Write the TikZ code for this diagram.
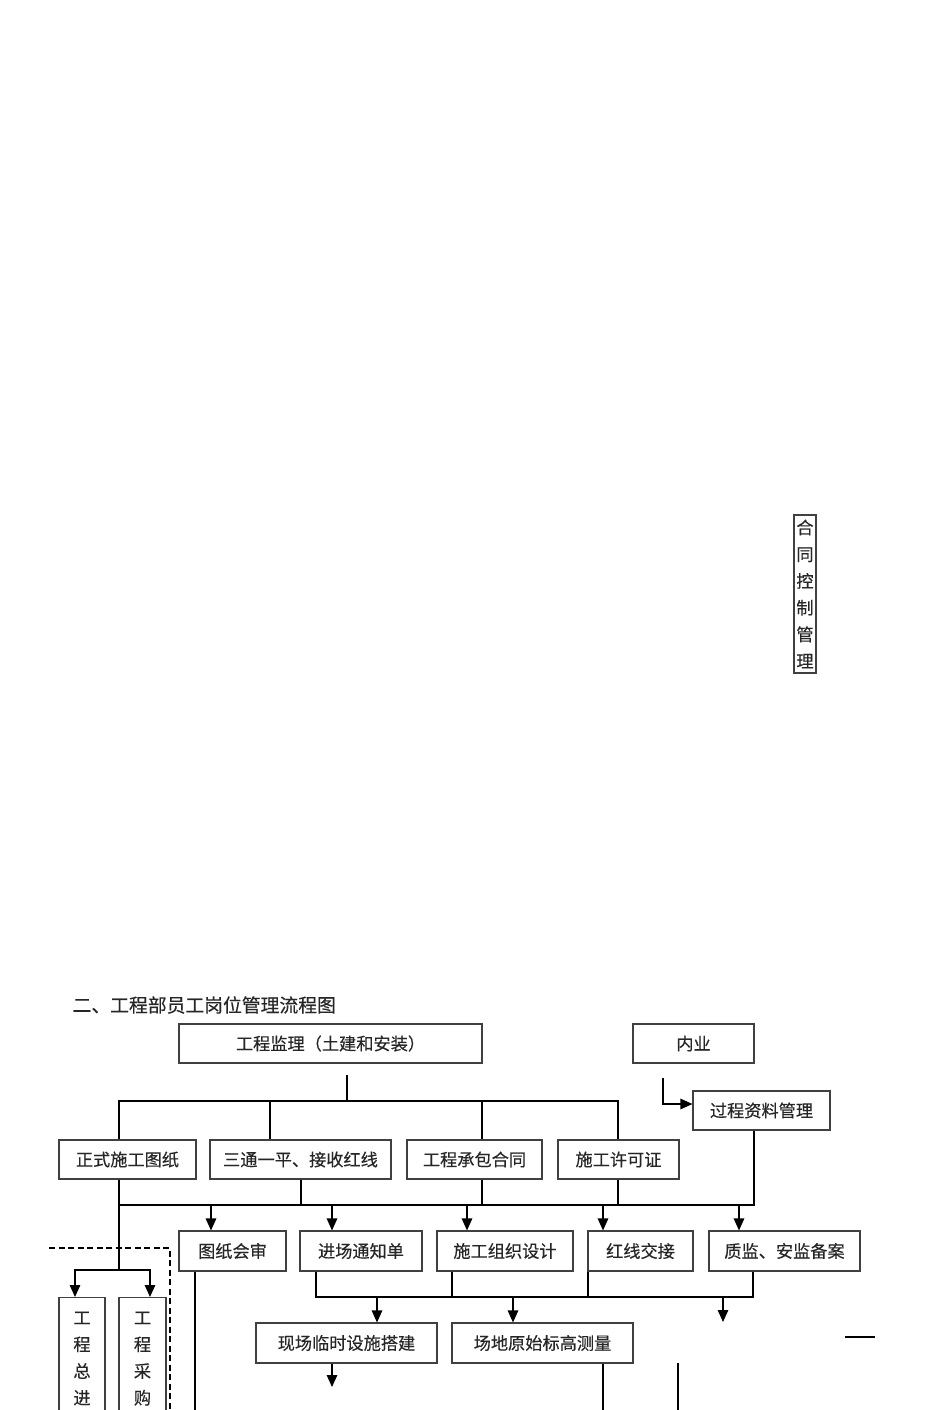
\documentclass[tikz,border=0pt]{standalone}
\usepackage{fontspec}
\newfontfamily\cjk[FakeBold=0.35]{Noto Sans CJK SC}
\usetikzlibrary{arrows.meta}

\begin{document}
\begin{tikzpicture}[x=1pt,y=-1pt,line width=1.3pt,
	every node/.style={font=\cjk\fontsize{17.2}{26.7}\selectfont,text=black!85,inner sep=0pt},
	box/.style={draw=black!75,line width=1.1pt,minimum height=39pt},
	vbox/.style={draw=black!75,line width=1.1pt,align=center},
	arr/.style={-{Triangle[length=12pt,width=10.5pt]}}]
	\useasboundingbox (0,0) rectangle (950,1410);
	\clip (0,0) rectangle (950,1410);

	\node[vbox,minimum width=22pt,minimum height=158pt] (kongzhi) at (805,594) {合\\同\\控\\制\\管\\理};

	\node[anchor=west,font=\cjk\fontsize{18.8}{22}\selectfont] (biaoti) at (72,1005) {二、工程部员工岗位管理流程图};

	\node[box,minimum width=303pt] (jianli) at (330.5,1043.5) {工程监理（土建和安装）};
	\node[box,minimum width=121pt] (neiye) at (693.5,1043.5) {内业};
	\node[box,minimum width=137pt] (ziliao) at (761.5,1110.5) {过程资料管理};

	\node[box,minimum width=137pt] (tuzhi) at (127.5,1159.5) {正式施工图纸};
	\node[box,minimum width=181pt] (santong) at (300.5,1159.5) {三通一平、接收红线};
	\node[box,minimum width=135pt] (hetong) at (474.5,1159.5) {工程承包合同};
	\node[box,minimum width=121pt] (xuke) at (618.5,1159.5) {施工许可证};

	\node[box,minimum width=107pt,minimum height=40pt] (huishen) at (232.5,1251) {图纸会审};
	\node[box,minimum width=122pt,minimum height=40pt] (jinchang) at (361,1251) {进场通知单};
	\node[box,minimum width=136pt,minimum height=40pt] (zuzhi) at (505,1251) {施工组织设计};
	\node[box,minimum width=105pt,minimum height=40pt] (hongxian) at (640.5,1251) {红线交接};
	\node[box,minimum width=151pt,minimum height=40pt] (beian) at (784.5,1251) {质监、安监备案};

	\node[box,minimum width=181pt,minimum height=40pt] (linshi) at (346.5,1343) {现场临时设施搭建};
	\node[box,minimum width=181pt,minimum height=40pt] (celiang) at (542.5,1343) {场地原始标高测量};

	% two tall boxes on the left, cut by the page edge
	\node[box,minimum width=46pt,minimum height=160pt,anchor=north] (zong) at (82,1297) {};
	\node[align=center,anchor=north] (zongtxt) at (82,1311) {工\\程\\总\\进};
	\node[box,minimum width=47pt,minimum height=160pt,anchor=north] (caigou) at (142.5,1297) {};
	\node[align=center,anchor=north] (caigoutxt) at (142.5,1311) {工\\程\\采\\购};

	\coordinate (j1) at (347,1075);
	\coordinate (busA) at (119,1101);
	\coordinate (busB) at (618,1101);
	\coordinate (n1) at (663,1078);
	\coordinate (busC) at (119,1205);
	\coordinate (busD) at (754,1205);
	\coordinate (fork) at (119,1270);
	\coordinate (busE) at (316,1297);
	\coordinate (busF) at (753,1297);
	\coordinate (d1) at (49,1248);

	% first level
	\draw[line width=1.8pt] (tuzhi.north -| busA) -- (busA) -- (busB) -- (xuke.north -| busB);
	\draw (j1) -- (j1 |- busA);
	\foreach \x/\n in {270/santong,482/hetong}
		\draw (\n.north -| \x,0) -- (\x,1101);
	\draw[arr] (n1) |- ([yshift=6.5pt]ziliao.west);

	% second level
	\draw (ziliao.south -| busD) -- (busD) -- (busC);
	\draw (tuzhi.south -| busC) -- (fork);
	\foreach \x/\n in {301/santong,482/hetong,618/xuke}
		\draw (\n.south -| \x,0) -- (\x,1205);
	\foreach \x/\n in {211/huishen,332/jinchang,467/zuzhi,603/hongxian,739/beian}
		\draw[arr] (\x,1205) -- (\n.north -| \x,0);

	\draw[arr] (fork) -| (zong.north -| 75,0);
	\draw[arr] (fork) -| (caigou.north -| 150,0);
	\draw[dash pattern=on 6pt off 3.5pt,line width=1.2pt] (d1) -| (170,1420);

	% third level
	\draw (huishen.south -| 195,0) -- (195,1420);
	\draw (jinchang.south -| busE) -- (busE) -- (busF) -- (beian.south -| busF);
	\foreach \x/\n in {452/zuzhi,588/hongxian}
		\draw (\n.south -| \x,0) -- (\x,1297);
	\foreach \x/\n in {377/linshi,513/celiang}
		\draw[arr] (\x,1297) -- (\n.north -| \x,0);
	\draw[arr] (723,1297) -- (723,1322);

	% fourth level
	\draw[arr] (linshi.south -| 332,0) -- (332,1387);
	\draw (celiang.south -| 603,0) -- (603,1420);
	\draw[line width=1.8pt] (678,1363) -- (678,1420);
	\draw (845,1337) -- (875,1337);
\end{tikzpicture}
\end{document}
